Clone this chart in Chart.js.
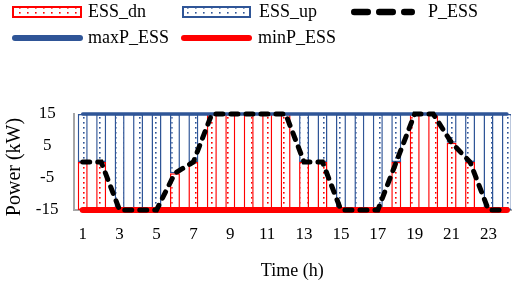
<!DOCTYPE html>
<html>
<head>
<meta charset="utf-8">
<script src="https://cdn.jsdelivr.net/npm/chart.js@4.4.1/dist/chart.umd.min.js"></script>
<style>
  html, body { margin: 0; padding: 0; background: #fff; }
  canvas { display: block; }
</style>
</head>
<body>
<canvas id="essChart" width="512" height="289"></canvas>
<script>
// hours of the day and the x tick labels
const hours = [1, 2, 3, 4, 5, 6, 7, 8, 9, 10, 11, 12, 13, 14, 15, 16, 17, 18, 19, 20, 21, 22, 23, 24];
const tickLabels = [1, 3, 5, 7, 9, 11, 13, 15, 17, 19, 21, 23];

// ESS power (kW)
const pESS = [0, 0, -15, -15, -15, -3.5, 0, 15, 15, 15, 15, 15, 0, 0, -15, -15, -15, 0, 15, 15, 6, 0, -15, -15];
const maxP = [15, 15, 15, 15, 15, 15, 15, 15, 15, 15, 15, 15, 15, 15, 15, 15, 15, 15, 15, 15, 15, 15, 15, 15];
const minP = [-15, -15, -15, -15, -15, -15, -15, -15, -15, -15, -15, -15, -15, -15, -15, -15, -15, -15, -15, -15, -15, -15, -15, -15];

const FONT = '"Liberation Serif", "Times New Roman", serif';
const BLUE = "#2F5597";
const RED = "#FF0000";

// white fill with small dots, like the excel "dotted" pattern
function dotPattern(color) {
  const c = document.createElement("canvas");
  c.width = 8;
  c.height = 5;
  const g = c.getContext("2d");
  g.fillStyle = "#fff";
  g.fillRect(0, 0, 8, 5);
  g.fillStyle = color;
  g.fillRect(3, 2, 1.6, 1.6);
  return g.createPattern(c, "repeat");
}

// ESS_dn spans from the lower limit up to P_ESS, ESS_up from P_ESS to the upper limit
const dnData = hours.map((h, i) => ({ x: h, y: [minP[i], pESS[i]] }));
const upData = hours.map((h, i) => ({ x: h, y: [pESS[i], maxP[i]] }));

// legend drawn by hand so the items sit on a fixed grid
const legendSpots = [
  { ds: 0, x: 13, y: 12, w: 68, tx: 88 },
  { ds: 1, x: 183, y: 12, w: 67, tx: 259 },
  { ds: 2, x: 351, y: 12, w: 64, tx: 428 },
  { ds: 3, x: 12, y: 38, w: 71, tx: 88 },
  { ds: 4, x: 181, y: 38, w: 71, tx: 258 }
];

const fixedLegend = {
  id: "fixedLegend",
  afterDraw(chart) {
    const ctx = chart.ctx;
    ctx.save();
    legendSpots.forEach(s => {
      const ds = chart.data.datasets[s.ds];
      if (ds.type === "bar") {
        ctx.fillStyle = ds.backgroundColor;
        ctx.fillRect(s.x, s.y - 5, s.w, 10);
        ctx.strokeStyle = ds.borderColor;
        ctx.lineWidth = 2;
        ctx.strokeRect(s.x, s.y - 5, s.w, 10);
      } else {
        const lw = ds.borderDash ? 6.5 : 6;
        ctx.strokeStyle = ds.borderColor;
        ctx.lineWidth = lw;
        ctx.lineCap = "round";
        ctx.setLineDash(ds.borderDash ? [13.5, 11.5] : []);
        ctx.beginPath();
        ctx.moveTo(s.x + lw / 2, s.y);
        ctx.lineTo(s.x + s.w - lw / 2, s.y);
        ctx.stroke();
        ctx.setLineDash([]);
      }
      ctx.fillStyle = "#000";
      ctx.font = "18px " + FONT;
      ctx.textBaseline = "middle";
      ctx.textAlign = "left";
      ctx.fillText(ds.label, s.tx, s.y + 0.5);
    });
    ctx.restore();
  }
};

const ctx = document.getElementById("essChart").getContext("2d");
const chart = new Chart(ctx, {
  data: {
    datasets: [
      {
        type: "bar",
        label: "ESS_dn",
        data: dnData,
        backgroundColor: dotPattern(RED),
        borderColor: RED,
        borderWidth: 1.5,
        borderSkipped: false,
        grouped: false,
        barPercentage: 0.54,
        categoryPercentage: 1,
        order: 3
      },
      {
        type: "bar",
        label: "ESS_up",
        data: upData,
        backgroundColor: dotPattern(BLUE),
        borderColor: BLUE,
        borderWidth: 1.5,
        borderSkipped: false,
        grouped: false,
        barPercentage: 0.54,
        categoryPercentage: 1,
        order: 3
      },
      {
        type: "line",
        label: "P_ESS",
        data: hours.map((h, i) => ({ x: h, y: pESS[i] })),
        borderColor: "#000",
        borderWidth: 5,
        borderDash: [7, 8],
        borderCapStyle: "round",
        pointRadius: 0,
        tension: 0,
        clip: false,
        order: 1
      },
      {
        type: "line",
        label: "maxP_ESS",
        data: hours.map((h, i) => ({ x: h, y: maxP[i] })),
        borderColor: BLUE,
        borderWidth: 3.5,
        borderCapStyle: "round",
        pointRadius: 0,
        clip: false,
        order: 2
      },
      {
        type: "line",
        label: "minP_ESS",
        data: hours.map((h, i) => ({ x: h, y: minP[i] })),
        borderColor: RED,
        borderWidth: 6,
        borderCapStyle: "round",
        pointRadius: 0,
        clip: false,
        order: 2
      }
    ]
  },
  options: {
    responsive: false,
    animation: false,
    layout: { autoPadding: false, padding: { top: 114, right: 1, bottom: 0, left: 0 } },
    plugins: {
      legend: { display: false },
      tooltip: { enabled: false }
    },
    scales: {
      x: {
        type: "linear",
        min: 0.5,
        max: 24.22,
        offset: false,
        afterBuildTicks: s => { s.ticks = tickLabels.map(v => ({ value: v })); },
        afterFit: s => { s.height = 79; },
        grid: { display: false, drawTicks: false, offset: false },
        border: { display: true, color: "#A6A6A6", width: 2 },
        ticks: {
          autoSkip: false,
          maxRotation: 0,
          padding: 14,
          color: "#000",
          font: { family: FONT, size: 17 },
          callback: v => v
        },
        title: {
          display: true,
          text: "Time (h)",
          color: "#000",
          font: { family: FONT, size: 18 },
          padding: { top: 0, bottom: 6.5 }
        }
      },
      y: {
        min: -15,
        max: 15,
        afterFit: s => { s.width = 73.5; },
        grid: { display: false, drawTicks: false },
        border: { display: true, color: "#A6A6A6", width: 2 },
        ticks: {
          stepSize: 10,
          padding: 15,
          crossAlign: "center",
          color: "#000",
          font: { family: FONT, size: 17 }
        },
        title: {
          display: true,
          text: "Power (kW)  ",
          color: "#000",
          font: { family: FONT, size: 20 },
          padding: { top: 3, bottom: 0 }
        }
      }
    }
  },
  plugins: [fixedLegend]
});
</script>
</body>
</html>
